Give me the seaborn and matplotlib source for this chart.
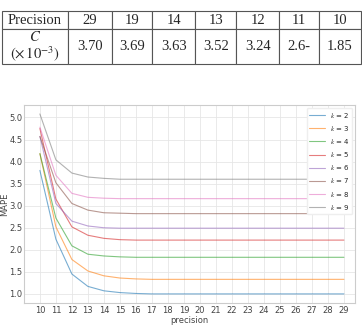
import matplotlib
matplotlib.use("Agg")
import matplotlib.pyplot as plt
import pandas as pd
import seaborn as sns

# table values
table_header = ["Precision", "29", "19", "14", "13", "12", "11", "10"]
table_row = ["$C$\n$(\\times\\,10^{-3})$", "3.70", "3.69", "3.63", "3.52", "3.24", "2.6-", "1.85"]

# MAPE per precision for each k
precision = [10, 11, 12, 13, 14, 15, 16, 17, 18, 19, 20, 21, 22, 23, 24, 25, 26, 27, 28, 29]
mape_k2 = [3.80, 2.24, 1.45, 1.17, 1.07, 1.03, 1.01, 1.00, 1.00, 1.00, 1.00, 1.00, 1.00, 1.00, 1.00, 1.00, 1.00, 1.00, 1.00, 1.00]
mape_k3 = [4.18, 2.52, 1.78, 1.52, 1.41, 1.36, 1.34, 1.33, 1.33, 1.33, 1.33, 1.33, 1.33, 1.33, 1.33, 1.33, 1.33, 1.33, 1.33, 1.33]
mape_k4 = [4.18, 2.72, 2.09, 1.90, 1.86, 1.84, 1.83, 1.83, 1.83, 1.83, 1.83, 1.83, 1.83, 1.83, 1.83, 1.83, 1.83, 1.83, 1.83, 1.83]
mape_k5 = [4.75, 3.15, 2.52, 2.33, 2.26, 2.23, 2.22, 2.22, 2.22, 2.22, 2.22, 2.22, 2.22, 2.22, 2.22, 2.22, 2.22, 2.22, 2.22, 2.22]
mape_k6 = [4.57, 3.05, 2.65, 2.54, 2.50, 2.49, 2.49, 2.49, 2.49, 2.49, 2.49, 2.49, 2.49, 2.49, 2.49, 2.49, 2.49, 2.49, 2.49, 2.49]
mape_k7 = [4.57, 3.52, 3.05, 2.90, 2.84, 2.83, 2.82, 2.82, 2.82, 2.82, 2.82, 2.82, 2.82, 2.82, 2.82, 2.82, 2.82, 2.82, 2.82, 2.82]
mape_k8 = [4.78, 3.69, 3.28, 3.19, 3.17, 3.16, 3.16, 3.16, 3.16, 3.16, 3.16, 3.16, 3.16, 3.16, 3.16, 3.16, 3.16, 3.16, 3.16, 3.16]
mape_k9 = [5.08, 4.04, 3.74, 3.65, 3.62, 3.60, 3.60, 3.60, 3.60, 3.60, 3.60, 3.60, 3.60, 3.60, 3.60, 3.60, 3.60, 3.60, 3.60, 3.60]

series = {
    2: mape_k2, 3: mape_k3, 4: mape_k4, 5: mape_k5,
    6: mape_k6, 7: mape_k7, 8: mape_k8, 9: mape_k9,
}
df = pd.concat(
    [pd.DataFrame({"precision": precision, "MAPE": vals, "k": f"$k$ = {k}"})
     for k, vals in series.items()],
    ignore_index=True,
)

sns.set_style("whitegrid", {"grid.color": "#e6e6e6", "axes.edgecolor": "#cccccc"})
plt.rcParams["mathtext.fontset"] = "stix"

fig = plt.figure(figsize=(3.62, 3.25), dpi=100)

# table on top
tax = fig.add_axes([0.005, 0.803, 0.992, 0.163])
tax.axis("off")
tbl = tax.table(
    cellText=[table_header, table_row],
    cellLoc="center",
    bbox=[0, 0, 1, 1],
    colWidths=[66, 44, 41, 43, 41, 43, 40, 42],
)
tbl.auto_set_font_size(False)
for (r, c), cell in tbl.get_celld().items():
    cell.set_edgecolor("#555555")
    cell.set_linewidth(0.8)
    cell.get_text().set_fontfamily("Liberation Serif")
    cell.get_text().set_fontsize(10.5)
    cell.set_height(0.34 if r == 0 else 0.66)
    if r == 1 and c == 0:
        cell.get_text().set_linespacing(1.0)

ax = fig.add_axes([0.066, 0.068, 0.915, 0.609])
sns.lineplot(
    data=df, x="precision", y="MAPE", hue="k",
    palette="tab10", linewidth=0.8, alpha=0.6, ax=ax,
)
ax.set_xticks(precision)
ax.set_xlim(9.0, 29.7)
ax.tick_params(labelsize=6, length=0, colors="#444444")
ax.tick_params(axis="x", pad=2.5)
ax.tick_params(axis="y", pad=1)
ax.set_xlabel("precision", fontsize=6, labelpad=0.5, color="#444444")
ax.set_ylabel("MAPE", fontsize=6, color="#444444")
ax.yaxis.set_label_coords(-0.046, 0.5)
for s in ax.spines.values():
    s.set_linewidth(0.8)
ax.grid(linewidth=0.6)
sns.move_legend(ax, "upper right", title=None, fontsize=5, frameon=True,
                framealpha=1, edgecolor="#eeeeee", handlelength=2.2,
                labelspacing=0.6, borderaxespad=0.4)

fig.savefig("out.png", dpi=100)
